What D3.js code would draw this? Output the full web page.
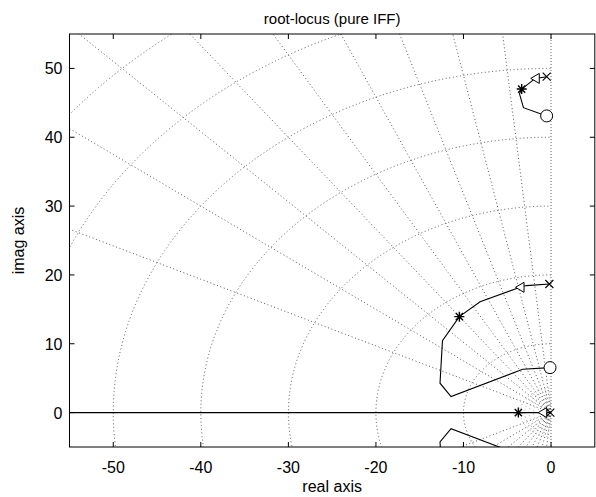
<!DOCTYPE html>
<meta charset="utf-8">
<script src="https://d3js.org/d3.v7.min.js"></script>
<style>
  body { margin: 0; background: #fff; }
  text { font-family: "Liberation Sans", Arial, sans-serif; }
</style>
<div id="chart"></div>
<script>

// axis ticks
var xTicks = [-50, -40, -30, -20, -10, 0];
var yTicks = [0, 10, 20, 30, 40, 50];

// s-plane grid: damping ratios and natural frequencies
var zetas = [0.1, 0.2, 0.3, 0.4, 0.5, 0.6, 0.7, 0.8, 0.9];
var wnBig = [10, 20, 30, 40, 50, 60, 70];
var wnSmall = [0.5, 1, 1.5, 2, 2.5, 3, 3.5];

// locus branches (upper half)
var branch1 = [[-0.5, 48.8], [-1.8, 48.55], [-3.35, 47.0], [-3.6, 46.3], [-3.15, 44.3], [-0.5, 43.1]];
var branch2 = [[-0.19, 18.68], [-2.8, 18.45], [-3.54, 18.2], [-8.1, 16.1], [-10.47, 13.94],
               [-12.4, 10.45], [-12.68, 4.27], [-11.42, 2.33], [-3.24, 6.3], [-0.11, 6.53]];
var branchReal = [[-80, 0], [-0.08, 0]];

// markers
var poles = [[-0.5, 48.8], [-0.19, 18.68], [-0.08, 0]];
var zeros = [[-0.5, 43.1], [-0.11, 6.53]];
var triangles = [[-1.8, 48.55], [-3.54, 18.2], [-0.95, 0]];
var stars = [[-3.35, 47.0], [-10.47, 13.94], [-3.73, 0]];

var margin = {top: 34, right: 1.2, bottom: 50, left: 69.5},
    width = 596 - margin.left - margin.right,
    height = 497 - margin.top - margin.bottom;

var root = d3.select("#chart")
  .append("svg")
    .attr("width", 596)
    .attr("height", 497);

var svg = root.append("g")
    .attr("transform", "translate(" + margin.left + "," + margin.top + ")");

var x = d3.scaleLinear().domain([-55, 5]).range([0, width]);
var y = d3.scaleLinear().domain([-5, 55]).range([height, 0]);

var defs = root.append("defs");
defs.append("clipPath").attr("id", "plot")
  .append("rect").attr("width", width).attr("height", height);
defs.append("clipPath").attr("id", "lhp")
  .append("rect").attr("width", x(0)).attr("height", height);

var grid = svg.append("g").attr("clip-path", "url(#plot)")
  .append("g").attr("clip-path", "url(#lhp)")
    .attr("fill", "none")
    .attr("stroke", "#444")
    .attr("stroke-width", 0.9)
    .attr("stroke-dasharray", "1,2.6");

// natural frequency circles
grid.selectAll("ellipse")
    .data(wnBig.concat(wnSmall))
  .enter().append("ellipse")
    .attr("cx", x(0))
    .attr("cy", y(0))
    .attr("rx", function(d) { return x(d) - x(0); })
    .attr("ry", function(d) { return y(0) - y(d); })
    .attr("stroke", function(d) { return d < 10 ? "#999" : "#444"; });

// damping rays (both half planes)
var rays = [];
zetas.forEach(function(z) { rays.push([z, 1]); rays.push([z, -1]); });
grid.selectAll("line.ray")
    .data(rays)
  .enter().append("line")
    .attr("class", "ray")
    .attr("x1", x(0)).attr("y1", y(0))
    .attr("x2", function(d) { return x(-100 * d[0]); })
    .attr("y2", function(d) { return y(d[1] * 100 * Math.sqrt(1 - d[0] * d[0])); });

// imaginary axis (zeta = 0)
svg.append("line")
    .attr("x1", x(0)).attr("x2", x(0))
    .attr("y1", 0).attr("y2", height)
    .attr("stroke", "#666")
    .attr("stroke-dasharray", "1,2");

// locus
var plot = svg.append("g").attr("clip-path", "url(#plot)");
var line = d3.line().x(function(d) { return x(d[0]); }).y(function(d) { return y(d[1]); });
var conj = function(b) { return b.map(function(p) { return [p[0], -p[1]]; }); };

[branch1, branch2, conj(branch1), conj(branch2), branchReal].forEach(function(b) {
  plot.append("path")
      .attr("d", line(b))
      .attr("fill", "none")
      .attr("stroke", "#000")
      .attr("stroke-width", 1.1);
});

// zeros
plot.selectAll("circle.zero")
    .data(zeros)
  .enter().append("circle")
    .attr("cx", function(d) { return x(d[0]); })
    .attr("cy", function(d) { return y(d[1]); })
    .attr("r", 6)
    .attr("fill", "#fff")
    .attr("stroke", "#000");

// poles
plot.selectAll("path.pole")
    .data(poles)
  .enter().append("path")
    .attr("transform", function(d) { return "translate(" + x(d[0]) + "," + y(d[1]) + ")"; })
    .attr("d", "M-4,-4L4,4M-4,4L4,-4")
    .attr("stroke", "#000")
    .attr("stroke-width", 1.1);

// triangles
plot.selectAll("path.tri")
    .data(triangles)
  .enter().append("path")
    .attr("transform", function(d) { return "translate(" + x(d[0]) + "," + y(d[1]) + ")"; })
    .attr("d", "M-4.5,0L4,-5L4,5Z")
    .attr("fill", "#fff")
    .attr("stroke", "#000");

// stars
plot.selectAll("path.star")
    .data(stars)
  .enter().append("path")
    .attr("transform", function(d) { return "translate(" + x(d[0]) + "," + y(d[1]) + ")"; })
    .attr("d", "M-5,0L5,0M0,-5L0,5M-3.6,-3.6L3.6,3.6M-3.6,3.6L3.6,-3.6")
    .attr("stroke", "#000")
    .attr("stroke-width", 1.4);

// box and ticks
svg.append("rect")
    .attr("width", width).attr("height", height)
    .attr("fill", "none").attr("stroke", "#000");

var tk = 5;
xTicks.forEach(function(t) {
  svg.append("line").attr("x1", x(t)).attr("x2", x(t)).attr("y1", height).attr("y2", height - tk).attr("stroke", "#000");
  svg.append("line").attr("x1", x(t)).attr("x2", x(t)).attr("y1", 0).attr("y2", tk).attr("stroke", "#000");
  svg.append("text")
      .attr("x", x(t)).attr("y", height + 26)
      .attr("text-anchor", "middle")
      .style("font-size", "16px")
      .text(t);
});
yTicks.forEach(function(t) {
  svg.append("line").attr("x1", 0).attr("x2", tk).attr("y1", y(t)).attr("y2", y(t)).attr("stroke", "#000");
  svg.append("line").attr("x1", width).attr("x2", width - tk).attr("y1", y(t)).attr("y2", y(t)).attr("stroke", "#000");
  svg.append("text")
      .attr("x", -7).attr("y", y(t) + 6)
      .attr("text-anchor", "end")
      .style("font-size", "16px")
      .text(t);
});

// labels
svg.append("text")
    .attr("x", width / 2).attr("y", -10)
    .attr("text-anchor", "middle")
    .style("font-size", "15px")
    .text("root-locus (pure IFF)");

svg.append("text")
    .attr("x", width / 2).attr("y", height + 45)
    .attr("text-anchor", "middle")
    .style("font-size", "16px")
    .text("real axis");

svg.append("text")
    .attr("transform", "rotate(-90)")
    .attr("x", -height / 2).attr("y", -46)
    .attr("text-anchor", "middle")
    .style("font-size", "16px")
    .text("imag axis");

</script>
